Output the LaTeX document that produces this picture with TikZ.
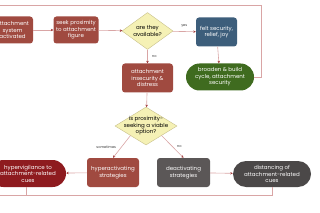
\documentclass[tikz,border=0pt]{standalone}
\usepackage{fontspec}
\setmainfont{Poppins}
\usetikzlibrary{shapes.geometric,shapes.misc,arrows.meta}

\definecolor{brick}{HTML}{A04A40}
\definecolor{darkred}{HTML}{8E1B1F}
\definecolor{slateblue}{HTML}{3D5E7B}
\definecolor{leaf}{HTML}{3F6B1F}
\definecolor{stone}{HTML}{5B5757}
\definecolor{coal}{HTML}{4B4848}
\definecolor{pale}{HTML}{F5F1B5}
\definecolor{paleline}{HTML}{C8C08A}
\definecolor{link}{HTML}{D9A5A5}
\definecolor{tip}{HTML}{A03A3A}

\tikzset{
  box/.style={rectangle, rounded corners=3pt, text=white, align=center,
    inner sep=0pt, font=\fontsize{5.5}{6.5}\selectfont},
  redbox/.style={box, fill=brick},
  pill/.style={rounded rectangle, text=white, align=center, inner sep=0pt,
    font=\fontsize{5.5}{6.5}\selectfont},
  question/.style={diamond, fill=pale, draw=paleline, line width=0.4pt,
    inner sep=0pt},
  qtext/.style={align=center, inner sep=0pt, font=\fontsize{5.5}{6.5}\selectfont},
  link/.style={draw=link, line width=0.6pt},
  arrow/.style={link, -{Stealth[length=2.5pt,width=2.5pt,color=tip]}},
  tag/.style={font=\fontsize{3.5}{4}\selectfont, text=black!80}
}

\begin{document}
\begin{tikzpicture}[x=1pt,y=-1pt]
    \useasboundingbox (0,0) rectangle (320,213);

    % top row
    \node[redbox, minimum width=41pt, minimum height=27pt] (activated) at (12.5,30) {attachment\\system\\activated};
    \node[redbox, minimum width=45pt, minimum height=27pt] (seek) at (76,30) {seek proximity\\to attachment\\figure};
    \node[question, minimum width=51pt, minimum height=37pt,
      label={[qtext]center:are they\\available?}] (available) at (147.5,31) {};
    \node[box, fill=slateblue, minimum width=41pt, minimum height=29pt] (felt) at (216.5,32) {felt security,\\relief, joy};

    % middle row
    \node[redbox, minimum width=51pt, minimum height=29pt] (insecurity) at (147.5,78) {attachment\\insecurity \&\\distress};
    \node[pill, fill=leaf, minimum width=68pt, minimum height=27pt] (broaden) at (220,77) {broaden \& build\\cycle, attachment\\security};

    % second question
    \node[question, minimum width=62pt, minimum height=38pt,
      label={[qtext]center:is proximity-\\seeking a viable\\option?}] (viable) at (146,126) {};

    % bottom row
    \node[pill, fill=darkred, minimum width=76pt, minimum height=27pt] (hypervig) at (28,173.5) {hypervigilance to\\attachment-related\\cues};
    \node[redbox, minimum width=52pt, minimum height=29pt] (hyper) at (113,172.5) {hyperactivating\\strategies};
    \node[box, fill=stone, minimum width=53pt, minimum height=29pt] (deact) at (183.5,172.5) {deactivating\\strategies};
    \node[pill, fill=coal, minimum width=78pt, minimum height=26pt] (distancing) at (272,174) {distancing of\\attachment-related\\cues};

    % loop coordinates
    \coordinate (topright) at (261,5);
    \coordinate (topleft) at (-5,5);
    \coordinate (bottomleft) at (-5,195.5);
    \coordinate (vigdrop) at (26,195.5);

    % connectors
    \draw[arrow] (activated) -- (seek);
    \draw[arrow] (seek) -- (available);
    \draw[arrow] (available) -- node[tag, above=0.5pt] {yes} (felt);
    \draw[arrow] (available) -- node[tag, right=1pt] {no} (insecurity);
    \draw[arrow] (felt) -- (broaden);
    \draw[arrow] (insecurity) -- (viable);
    \draw[arrow] (viable.south west) -- node[tag, left=2pt] {sometimes} (hyper.north);
    \draw[arrow] (viable.south east) -- node[tag, right=1pt] {no} (deact.north);
    \draw[arrow] (hyper) -- (hypervig);
    \draw[arrow] (deact) -- (distancing);

    % feedback loops
    \draw[link] (broaden.east) -| (topright) -- (topleft);
    \draw[link] (distancing.south) |- (bottomleft);
    \draw[link] (hypervig.south -| vigdrop) -- (vigdrop);
\end{tikzpicture}
\end{document}
